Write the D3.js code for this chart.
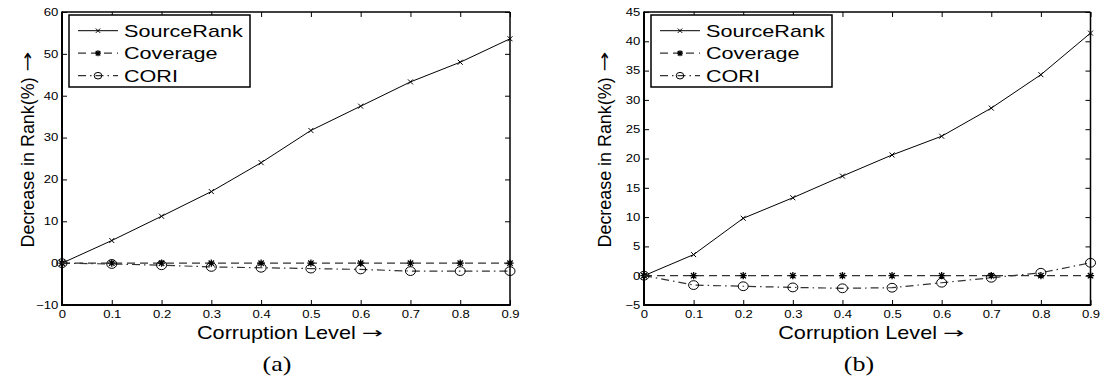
<!DOCTYPE html>
<html>
<head>
<meta charset="utf-8">
<script src="https://cdn.jsdelivr.net/npm/d3@7"></script>
<style>
  html, body { margin: 0; padding: 0; background: #fff; }
  svg { display: block; }
  text { font-family: "Liberation Sans", Arial, Helvetica, sans-serif; fill: #000; }
  .arrow { font-family: "DejaVu Sans", sans-serif; }
</style>
</head>
<body>
<svg id="chart" width="1101" height="378"></svg>
<script>
// ---- data ----
const levels = [0, 0.1, 0.2, 0.3, 0.4, 0.5, 0.6, 0.7, 0.8, 0.9];
const seriesNames = ["SourceRank", "Coverage", "CORI"];

// panel (a)
const sourceRankA = [0, 5.4, 11.2, 17.1, 24.0, 31.7, 37.5, 43.3, 48.0, 53.6];
const coverageA   = [0, 0, 0, 0, 0, 0, 0, 0, 0, 0];
const coriA       = [0, -0.2, -0.5, -0.9, -1.1, -1.3, -1.5, -1.9, -1.9, -1.9];
const yTicksA     = [-10, 0, 10, 20, 30, 40, 50, 60];

// panel (b)
const sourceRankB = [0, 3.6, 9.8, 13.3, 17.0, 20.6, 23.8, 28.6, 34.3, 41.4];
const coverageB   = [0, 0, 0, 0, 0, 0, 0, 0, 0, 0];
const coriB       = [0, -1.6, -1.8, -2.0, -2.15, -2.05, -1.2, -0.35, 0.5, 2.2];
const yTicksB     = [-5, 0, 5, 10, 15, 20, 25, 30, 35, 40, 45];

const xLabel = "Corruption Level";
const yLabel = "Decrease in Rank(%)";
const arrow = "\u2192";

// the figure was stretched horizontally when exported
const SX = 1.27;

const svg = d3.select("#chart");

// ---- style per series ----
const styles = {
    SourceRank: { dash: null,        color: "#000", width: 1,   marker: "x" },
    Coverage:   { dash: "8,5",       color: "#333", width: 1.2, marker: "star" },
    CORI:       { dash: "8,4,1.5,4", color: "#333", width: 1.2, marker: "circle" }
};

function markerPath(type, s) {
    if (type === "x") return `M${-s},${-s}L${s},${s}M${-s},${s}L${s},${-s}`;
    const d = s * 0.75;
    return `M${-s},0L${s},0M0,${-s}L0,${s}M${-d},${-d}L${d},${d}M${-d},${d}L${d},${-d}`;
}

function drawMarker(g, type, x, y, big) {
    if (type === "circle") {
        g.append("ellipse")
            .attr("cx", x).attr("cy", y)
            .attr("rx", big ? 5 : 3.8).attr("ry", big ? 4.4 : 3.3)
            .attr("fill", "none").attr("stroke", "#000").attr("stroke-width", 1);
    } else {
        g.append("path")
            .attr("d", markerPath(type, type === "x" ? (big ? 2.5 : 2.2) : (big ? 3.6 : 3)))
            .attr("transform", `translate(${x},${y})`)
            .attr("fill", "none").attr("stroke", "#000")
            .attr("stroke-width", type === "star" ? 1.3 : 1);
    }
}

// stretched text helper
function sText(g, x, y, str, size, anchor, sx, family) {
    return g.append("text")
        .attr("transform", `translate(${x},${y}) scale(${sx},1)`)
        .attr("text-anchor", anchor)
        .style("font-size", size + "px")
        .style("font-family", family || null)
        .text(str);
}

// label followed by a long thin arrow, fitted to a target length
function arrowLabel(g, x, y, str, size, target, rotated, sx) {
    const grp = g.append("g")
        .attr("transform", rotated
            ? `translate(${x},${y}) scale(${sx},1) rotate(-90)`
            : `translate(${x},${y})`);
    const t = grp.append("text").style("font-size", size + "px").text(str);
    const a = grp.append("text").attr("class", "arrow").style("font-size", size + "px").text(arrow);
    const L = t.node().getComputedTextLength();
    const A = a.node().getComputedTextLength() * 1.4;
    const gap = 6;
    const textLen = target - gap - A;
    const start = -target / 2;
    t.attr("transform", `translate(${start},0) scale(${textLen / L},1)`);
    a.attr("transform", `translate(${start + textLen + gap},-1) scale(1.4,0.85)`);
    return grp;
}

function drawPanel(p) {
    const g = svg.append("g");

    const x = d3.scaleLinear().domain([0, 0.9]).range([p.left, p.right]);
    const y = d3.scaleLinear().domain(p.yDomain).range([p.bottom, p.top]);

    // axes: ticks inward on all four sides
    const fmtX = d => d === 0 ? "0" : d3.format(".1f")(d);
    g.append("g")
        .attr("transform", `translate(0,${p.bottom})`)
        .call(d3.axisBottom(x).tickValues(levels).tickFormat(fmtX).tickSizeInner(-5).tickSizeOuter(0).tickPadding(5.5));
    g.append("g")
        .attr("transform", `translate(${p.left},0)`)
        .call(d3.axisLeft(y).tickValues(p.yTicks).tickSizeInner(-5).tickSizeOuter(0).tickPadding(3));
    g.append("g")
        .attr("transform", `translate(0,${p.top})`)
        .call(d3.axisTop(x).tickValues(levels).tickFormat("").tickSizeInner(-5).tickSizeOuter(0));
    g.append("g")
        .attr("transform", `translate(${p.right},0)`)
        .call(d3.axisRight(y).tickValues(p.yTicks).tickFormat("").tickSizeInner(-5).tickSizeOuter(0));

    g.selectAll(".domain").remove();
    g.selectAll(".tick line").attr("stroke", "#000").attr("stroke-width", 1);
    g.selectAll(".tick text")
        .style("font-size", "10.3px")
        .style("font-family", "'Liberation Sans', Arial, sans-serif")
        .attr("transform", `scale(${SX},1)`);

    // box
    g.append("line").attr("x1", p.left).attr("x2", p.left).attr("y1", p.top - 0.5).attr("y2", p.bottom + 1)
        .attr("stroke", "#000").attr("stroke-width", 2);
    g.append("line").attr("x1", p.left - 1).attr("x2", p.right + 0.75).attr("y1", p.bottom).attr("y2", p.bottom)
        .attr("stroke", "#000").attr("stroke-width", 2);
    g.append("line").attr("x1", p.left).attr("x2", p.right).attr("y1", p.top).attr("y2", p.top)
        .attr("stroke", "#000").attr("stroke-width", 1.3);
    g.append("line").attr("x1", p.right).attr("x2", p.right).attr("y1", p.top).attr("y2", p.bottom)
        .attr("stroke", "#000").attr("stroke-width", 1.5);

    // series
    const line = d3.line().x((d, i) => x(levels[i])).y(d => y(d));
    p.series.forEach((vals, si) => {
        const st = styles[seriesNames[si]];
        g.append("path")
            .datum(vals)
            .attr("d", line)
            .attr("fill", "none")
            .attr("stroke", st.color)
            .attr("stroke-width", st.width)
            .attr("stroke-dasharray", st.dash);
        vals.forEach((v, i) => drawMarker(g, st.marker, x(levels[i]), y(v), true));
    });

    // legend
    const lx = p.left + 7, ly = p.top + 3, lw = 181, lh = 72;
    g.append("rect").attr("x", lx).attr("y", ly).attr("width", lw).attr("height", lh)
        .attr("fill", "#fff").attr("stroke", "#000").attr("stroke-width", 1.5);
    seriesNames.forEach((name, i) => {
        const st = styles[name];
        const cy = ly + 15.7 + i * 22.5;
        g.append("line")
            .attr("x1", lx + 9).attr("x2", lx + 49).attr("y1", cy).attr("y2", cy)
            .attr("stroke", st.color).attr("stroke-width", st.width)
            .attr("stroke-dasharray", st.dash);
        drawMarker(g, st.marker, lx + 29, cy, false);
        sText(g, lx + 55, cy + 6.2, name, 17, "start", SX);
    });

    // axis labels and caption
    const cx = (p.left + p.right) / 2;
    arrowLabel(g, cx + 4, 339, xLabel, 18, 186, false);
    arrowLabel(g, p.yLabelX, (p.top + p.bottom) / 2 - 9, yLabel, 17, 196, true, 1.12);
    sText(g, p.left + p.captionDx, 371, p.caption, 20, "middle", 1.3, "'Liberation Serif', 'DejaVu Serif', serif");
}

drawPanel({
    left: 62, right: 510, top: 12, bottom: 305,
    yDomain: [-10, 60], yTicks: yTicksA,
    series: [sourceRankA, coverageA, coriA],
    yLabelX: 34, caption: "(a)", captionDx: 215
});
drawPanel({
    left: 644, right: 1090.5, top: 12, bottom: 305,
    yDomain: [-5, 45], yTicks: yTicksB,
    series: [sourceRankB, coverageB, coriB],
    yLabelX: 611, caption: "(b)", captionDx: 215
});
</script>
</body>
</html>
